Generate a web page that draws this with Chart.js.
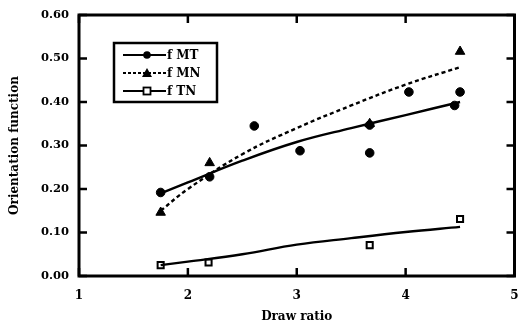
<!DOCTYPE html>
<html>
<head>
<meta charset="utf-8">
<script src="https://cdn.jsdelivr.net/npm/chart.js@4/dist/chart.umd.min.js"></script>
<style>
html,body{margin:0;padding:0;background:#fff;}
#wrap{width:521px;height:324px;position:relative;}
</style>
</head>
<body>
<div id="wrap"><canvas id="c" width="521" height="324"></canvas></div>
<script>
// Measured points
const mtX = [1.75, 2.2, 2.61, 3.03, 3.67, 3.67, 4.03, 4.45, 4.5];
const mtY = [0.192, 0.228, 0.345, 0.288, 0.283, 0.347, 0.423, 0.392, 0.423];
const mnX = [1.75, 2.2, 3.67, 4.5];
const mnY = [0.146, 0.26, 0.35, 0.516];
const tnX = [1.75, 2.19, 3.67, 4.5];
const tnY = [0.025, 0.031, 0.071, 0.131];
// Fitted curves
const fitX = [1.75, 2.0, 2.5, 3.0, 3.5, 4.0, 4.5];
const mtFit = [0.19, 0.215, 0.265, 0.308, 0.34, 0.37, 0.40];
const mnFit = [0.15, 0.20, 0.28, 0.34, 0.392, 0.44, 0.48];
const tnFit = [0.025, 0.033, 0.05, 0.072, 0.087, 0.101, 0.113];
// Axis ticks
const xTicks = [1, 2, 3, 4, 5];
const yTicks = [0, 0.1, 0.2, 0.3, 0.4, 0.5, 0.6];
const legendLabels = ['f MT', 'f MN', 'f TN'];

const pts = (xs, ys) => xs.map((x, i) => ({x: x, y: ys[i]}));
const FONT = '"DejaVu Serif", "Liberation Serif", serif';

const framePlugin = {
  id: 'frame',
  afterDatasetsDraw(chart) {
    const ctx = chart.ctx;
    const a = chart.chartArea;
    const xs = chart.scales.x, ys = chart.scales.y;
    ctx.save();
    ctx.strokeStyle = '#000';
    ctx.lineWidth = 3;
    ctx.strokeRect(a.left, a.top, a.right - a.left, a.bottom - a.top);
    ctx.lineWidth = 2.5;
    ctx.beginPath();
    xTicks.forEach(v => {
      const p = xs.getPixelForValue(v);
      ctx.moveTo(p, a.bottom); ctx.lineTo(p, a.bottom - 8);
      ctx.moveTo(p, a.top); ctx.lineTo(p, a.top + 8);
    });
    yTicks.forEach(v => {
      const p = ys.getPixelForValue(v);
      ctx.moveTo(a.left, p); ctx.lineTo(a.left + 8, p);
      ctx.moveTo(a.right, p); ctx.lineTo(a.right - 8, p);
    });
    ctx.stroke();
    // legend box
    const bx = 114, by = 43, bw = 103, bh = 59;
    ctx.fillStyle = '#fff';
    ctx.fillRect(bx, by, bw, bh);
    ctx.lineWidth = 2.5;
    ctx.strokeRect(bx, by, bw, bh);
    const rows = [by + 12, by + 30, by + 48];
    rows.forEach((ry, i) => {
      ctx.lineWidth = 2.2;
      ctx.setLineDash(i === 1 ? [3, 2] : []);
      ctx.beginPath();
      ctx.moveTo(bx + 9, ry); ctx.lineTo(bx + 52, ry);
      ctx.stroke();
      ctx.setLineDash([]);
      const mx = bx + 33;
      ctx.fillStyle = '#000';
      if (i === 0) {
        ctx.beginPath(); ctx.arc(mx, ry, 3.8, 0, Math.PI * 2); ctx.fill();
      } else if (i === 1) {
        ctx.beginPath(); ctx.moveTo(mx, ry - 5); ctx.lineTo(mx + 5, ry + 4); ctx.lineTo(mx - 5, ry + 4); ctx.closePath(); ctx.fill();
      } else {
        ctx.fillStyle = '#fff';
        ctx.fillRect(mx - 3.5, ry - 3.5, 7, 7);
        ctx.lineWidth = 1.8;
        ctx.strokeRect(mx - 3.5, ry - 3.5, 7, 7);
      }
      ctx.fillStyle = '#000';
      ctx.font = 'bold 12px ' + FONT;
      ctx.textBaseline = 'middle';
      ctx.textAlign = 'left';
      ctx.fillText(legendLabels[i], bx + 53, ry + 1);
    });
    ctx.restore();
  }
};

new Chart(document.getElementById('c'), {
  type: 'scatter',
  data: {
    datasets: [
      {label: 'MT fit', data: pts(fitX, mtFit), showLine: true, borderColor: '#000', borderWidth: 2.4, pointRadius: 0, tension: 0.4, fill: false},
      {label: 'MN fit', data: pts(fitX, mnFit), showLine: true, borderColor: '#000', borderWidth: 2.4, borderDash: [4, 3], pointRadius: 0, tension: 0.4, fill: false},
      {label: 'TN fit', data: pts(fitX, tnFit), showLine: true, borderColor: '#000', borderWidth: 2.4, pointRadius: 0, tension: 0.4, fill: false},
      {label: 'f MT', data: pts(mtX, mtY), pointStyle: 'circle', pointRadius: 4.3, backgroundColor: '#000', borderColor: '#000', borderWidth: 1},
      {label: 'f MN', data: pts(mnX, mnY), pointStyle: 'triangle', pointRadius: 5.5, backgroundColor: '#000', borderColor: '#000', borderWidth: 1},
      {label: 'f TN', data: pts(tnX, tnY), pointStyle: 'rect', pointRadius: 4.3, backgroundColor: '#fff', borderColor: '#000', borderWidth: 2}
    ]
  },
  options: {
    responsive: false,
    animation: false,
    events: [],
    layout: {padding: {left: 0, right: 0, top: 15, bottom: 0}},
    plugins: {legend: {display: false}, tooltip: {enabled: false}},
    scales: {
      x: {
        type: 'linear', min: 1, max: 5,
        afterBuildTicks: s => { s.ticks = xTicks.map(v => ({value: v})); },
        afterFit: s => { s.height = 48; s.paddingLeft = 0; s.paddingRight = 0; },
        grid: {display: false, drawTicks: false},
        border: {display: false},
        ticks: {color: '#000', font: {family: FONT, weight: 'bold', size: 12}, padding: 13, callback: v => String(v), maxRotation: 0},
        title: {display: true, text: 'Draw ratio', color: '#000', font: {family: FONT, weight: 'bold', size: 12}, padding: {top: 2, bottom: 0}}
      },
      y: {
        type: 'linear', min: 0, max: 0.6,
        afterBuildTicks: s => { s.ticks = yTicks.map(v => ({value: v})); },
        afterFit: s => { s.width = 79; s.paddingTop = 0; s.paddingBottom = 0; },
        grid: {display: false, drawTicks: false},
        border: {display: false},
        ticks: {color: '#000', font: {family: FONT, weight: 'bold', size: 11.5}, padding: 10, callback: v => v.toFixed(2)},
        title: {display: true, text: 'Orientation function', color: '#000', font: {family: FONT, weight: 'bold', size: 12}, padding: {top: 8, bottom: 0}}
      }
    }
  },
  plugins: [framePlugin]
});
</script>
</body>
</html>
